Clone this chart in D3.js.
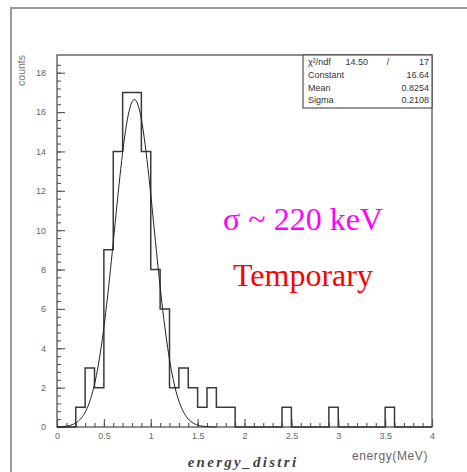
<!DOCTYPE html>
<html>
<head>
<meta charset="utf-8">
<script src="https://cdn.jsdelivr.net/npm/d3@7"></script>
<style>
  html, body { margin: 0; padding: 0; background: #fff; }
  svg { display: block; }
</style>
</head>
<body>
<svg id="chart" width="467" height="472"></svg>
<script>
// ---- data ----
const binWidth = 0.1;
const binStart = 0;
const binCounts = [0,0,1,3,2,9,14,17,17,14,8,6,2,3,2,1,2,1,1,0,
                   0,0,0,0,1,0,0,0,0,1,0,0,0,0,0,1,0,0,0,0];
const xTickValues = [0, 0.5, 1, 1.5, 2, 2.5, 3, 3.5, 4];
const xTickLabels = ["0", "0.5", "1", "1.5", "2", "2.5", "3", "3.5", "4"];
const yTickValues = [0, 2, 4, 6, 8, 10, 12, 14, 16, 18];
const yTickLabels = ["0", "2", "4", "6", "8", "10", "12", "14", "16", "18"];
const statNames = ["\u03c7\u00b2/ndf", "Constant", "Mean", "Sigma"];
const statValues = ["", "16.64", "0.8254", "0.2108"];
const chi2 = "14.50", ndf = "17";
// Gaussian fit parameters (from stats box)
const fitConstant = 16.64, fitMean = 0.8254, fitSigma = 0.2108;
const fitRange = [0, 1.7];

// ---- layout ----
const svg = d3.select("#chart");
const L = 57, R = 432, T = 55, B = 427;
const x = d3.scaleLinear().domain([0, 4]).range([L, R]);
const y = d3.scaleLinear().domain([0, 18.9]).range([B, T]);

// outer pad frame
svg.append("path")
  .attr("d", `M11,472 L11,8 L467,8`)
  .attr("fill", "none").attr("stroke", "#9a9a9a").attr("stroke-width", 2);

// plot frame
svg.append("rect")
  .attr("x", L).attr("y", T).attr("width", R - L).attr("height", B - T)
  .attr("fill", "none").attr("stroke", "#444").attr("stroke-width", 1.2);

// axes
const axisColor = "#555";
const gx = svg.append("g").attr("transform", `translate(0,${B})`)
  .call(d3.axisBottom(x).tickValues(xTickValues).tickSize(-8).tickPadding(6)
    .tickFormat((d, i) => xTickLabels[i]));
const gxm = svg.append("g").attr("transform", `translate(0,${B})`)
  .call(d3.axisBottom(x).tickValues(d3.range(0, 41).map(i => i / 10)).tickSize(-4).tickFormat(""));
const gy = svg.append("g").attr("transform", `translate(${L},0)`)
  .call(d3.axisLeft(y).tickValues(yTickValues).tickSize(-8).tickPadding(11)
    .tickFormat((d, i) => yTickLabels[i]));
const gym = svg.append("g").attr("transform", `translate(${L},0)`)
  .call(d3.axisLeft(y).tickValues(d3.range(0, 47).map(i => i * 0.4)).tickSize(-4).tickFormat(""));
[gx, gxm, gy, gym].forEach(g => {
  g.select(".domain").remove();
  g.selectAll("line").attr("stroke", axisColor).attr("stroke-width", 1.1);
  g.selectAll("text").attr("fill", "#666").style("font-family", "'Liberation Sans', Arial, sans-serif").style("font-size", "9px");
});

// histogram outline (step)
const pts = [];
pts.push([binStart, 0]);
binCounts.forEach((c, i) => {
  const x0 = binStart + i * binWidth, x1 = x0 + binWidth;
  pts.push([x0, c]); pts.push([x1, c]);
});
pts.push([binStart + binCounts.length * binWidth, 0]);
svg.append("path")
  .attr("d", d3.line().x(d => x(d[0])).y(d => y(d[1]))(pts))
  .attr("fill", "none").attr("stroke", "#3a3a3a").attr("stroke-width", 1.5);

// fit curve
const fx = d3.range(0, 171).map(i => fitRange[0] + i * (fitRange[1] - fitRange[0]) / 170);
const fit = fx.map(v => [v, fitConstant * Math.exp(-0.5 * Math.pow((v - fitMean) / fitSigma, 2))]);
svg.append("path")
  .attr("d", d3.line().x(d => x(d[0])).y(d => y(d[1])).curve(d3.curveLinear)(fit))
  .attr("fill", "none").attr("stroke", "#222").attr("stroke-width", 1);

// stats box
const sbL = 303, sbT = T, sbR = R, sbB = 108;
svg.append("rect").attr("x", sbL).attr("y", sbT).attr("width", sbR - sbL).attr("height", sbB - sbT)
  .attr("fill", "#fff").attr("stroke", "#444").attr("stroke-width", 1.1);
const rowBase = [65, 77.5, 90.5, 103];
const sf = "'Liberation Sans', Arial, sans-serif";
statNames.forEach((n, i) => {
  svg.append("text").attr("x", 308).attr("y", rowBase[i]).text(n)
    .attr("fill", "#333").style("font-family", sf).style("font-size", "9px");
  if (statValues[i]) {
    svg.append("text").attr("x", 429).attr("y", rowBase[i]).attr("text-anchor", "end").text(statValues[i])
      .attr("fill", "#333").style("font-family", sf).style("font-size", "9px");
  }
});
svg.append("text").attr("x", 368).attr("y", rowBase[0]).attr("text-anchor", "end").text(chi2)
  .attr("fill", "#333").style("font-family", sf).style("font-size", "9px");
svg.append("text").attr("x", 388).attr("y", rowBase[0]).attr("text-anchor", "middle").text("/")
  .attr("fill", "#333").style("font-family", sf).style("font-size", "9px");
svg.append("text").attr("x", 429).attr("y", rowBase[0]).attr("text-anchor", "end").text(ndf)
  .attr("fill", "#333").style("font-family", sf).style("font-size", "9px");

// axis titles
svg.append("text").attr("transform", "translate(25,55) rotate(-90)").attr("text-anchor", "end")
  .text("counts").attr("fill", "#777").style("font-family", sf).style("font-size", "10.5px");
svg.append("text").attr("x", 428).attr("y", 460).attr("text-anchor", "end")
  .text("energy(MeV)").attr("fill", "#666").style("font-family", sf).style("font-size", "12px")
  .style("letter-spacing", "0.6px");
svg.append("text").attr("x", 243).attr("y", 467).attr("text-anchor", "middle")
  .text("energy_distri").attr("fill", "#444")
  .style("font-family", "'Liberation Serif', 'Times New Roman', serif")
  .style("font-size", "15px").style("font-weight", "bold").style("font-style", "italic")
  .style("letter-spacing", "2.3px");

// annotations
svg.append("text").attr("x", 303).attr("y", 230).attr("text-anchor", "middle")
  .text("\u03c3 ~ 220 keV").attr("fill", "#ff00ff")
  .style("font-family", "'Liberation Serif', 'Times New Roman', serif").style("font-size", "32px");
svg.append("text").attr("x", 303).attr("y", 286).attr("text-anchor", "middle")
  .text("Temporary").attr("fill", "#ff0000")
  .style("font-family", "'Liberation Serif', 'Times New Roman', serif").style("font-size", "32px");
</script>
</body>
</html>
